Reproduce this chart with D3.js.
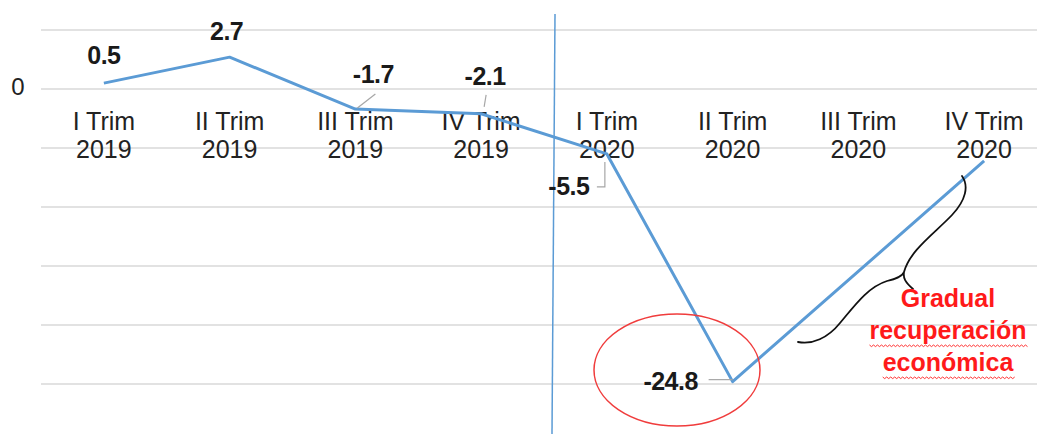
<!DOCTYPE html>
<html>
<head>
<meta charset="utf-8">
<script src="https://cdn.jsdelivr.net/npm/d3@7"></script>
<style>
  body { margin: 0; background: #fff; }
  svg { display: block; font-family: "Liberation Sans", Arial, sans-serif; }
</style>
</head>
<body>
<svg width="1037" height="434"></svg>
<script>
var quarters = ["I Trim", "II Trim", "III Trim", "IV Trim", "I Trim", "II Trim", "III Trim", "IV Trim"];
var years = ["2019", "2019", "2019", "2019", "2020", "2020", "2020", "2020"];
var growth = [0.5, 2.7, -1.7, -2.1, -5.5, -24.8, null, -6.1];
var showLabel = [true, true, true, true, true, true, false, false];
var gridTicks = [5, 0, -5, -10, -15, -20, -25];
var yTickLabels = [0];

var svg = d3.select("svg");
var keys = quarters.map(function(q, i) { return q + " " + years[i]; });

var x = d3.scaleBand().domain(keys).range([41, 1047]);
var y = d3.scaleLinear().domain([-25, 5]).range([384, 30]);
var cx = function(i) { return x(keys[i]) + x.bandwidth() / 2; };

// gridlines
svg.append("g").selectAll("line")
  .data(gridTicks)
  .enter().append("line")
    .attr("x1", 41).attr("x2", 1037)
    .attr("y1", function(d) { return y(d); })
    .attr("y2", function(d) { return y(d); })
    .attr("stroke", "#d9d9d9").attr("stroke-width", 1.5);

// y tick label
svg.append("g").selectAll("text")
  .data(yTickLabels)
  .enter().append("text")
    .attr("x", 18).attr("y", function(d) { return y(d) + 6; })
    .attr("text-anchor", "middle")
    .attr("font-size", 24).attr("fill", "#222")
    .text(function(d) { return d; });

// category labels
var cat = svg.append("g").selectAll("text")
  .data(keys)
  .enter().append("text")
    .attr("text-anchor", "middle")
    .attr("font-size", 25).attr("fill", "#222");
cat.append("tspan")
  .attr("x", function(d, i) { return cx(i); }).attr("y", 130)
  .text(function(d, i) { return quarters[i]; });
cat.append("tspan")
  .attr("x", function(d, i) { return cx(i); }).attr("y", 158)
  .text(function(d, i) { return years[i]; });

// vertical separator
svg.append("line")
  .attr("x1", 555).attr("y1", 14).attr("x2", 552).attr("y2", 434)
  .attr("stroke", "#5b9bd5").attr("stroke-width", 1.5);

// series line (empty cells are bridged)
var pts = growth.map(function(v, i) { return { i: i, v: v }; })
  .filter(function(d) { return d.v !== null; });
var line = d3.line()
  .x(function(d) { return cx(d.i); })
  .y(function(d) { return y(d.v); });
svg.append("path")
  .datum(pts)
  .attr("d", line)
  .attr("fill", "none")
  .attr("stroke", "#5b9bd5")
  .attr("stroke-width", 3)
  .attr("stroke-linejoin", "round");

// data labels with leader lines
var labelPos = [
  { dx: 0, dy: -19, leader: null },
  { dx: -3, dy: -17, leader: null },
  { dx: 18, dy: -26, leader: [[20, -15], [2, -1]] },
  { dx: 4, dy: -29, leader: [[5, -19], [3, -7]] },
  { dx: -38, dy: 41, leader: [[-10, 33], [-2, 33], [-2, 8]] },
  { dx: -62, dy: 8, leader: [[-24, -2], [0, -2]] }
];
pts.forEach(function(d) {
  if (!showLabel[d.i]) return;
  var p = labelPos[d.i], px = cx(d.i), py = y(d.v);
  if (p.leader) {
    svg.append("path")
      .attr("d", d3.line()(p.leader.map(function(o) { return [px + o[0], py + o[1]]; })))
      .attr("fill", "none").attr("stroke", "#a6a6a6").attr("stroke-width", 1.2);
  }
  svg.append("text")
    .attr("x", px + p.dx).attr("y", py + p.dy)
    .attr("text-anchor", "middle")
    .attr("font-size", 25).attr("font-weight", "bold").attr("fill", "#1a1a1a")
    .attr("letter-spacing", -0.5)
    .text(d.v);
});

// red ellipse around the minimum
svg.append("ellipse")
  .attr("cx", 677).attr("cy", 370).attr("rx", 83).attr("ry", 56)
  .attr("fill", "none").attr("stroke", "#f03c3c").attr("stroke-width", 1.5);

// curly brace
svg.append("path")
  .attr("d", "M962,176 C969,186 966,200 952,215 C935,233 910,250 904,272 C903,278 905,282 913,289" +
             " M904,272 C902,277 895,279 887,281 C868,287 855,305 840,323 C828,338 812,345 798,342")
  .attr("fill", "none").attr("stroke", "#111").attr("stroke-width", 1.8)
  .attr("stroke-linecap", "round");

// annotation text
var note = ["Gradual", "recuperación", "económica"];
var noteY = [307, 339, 371];
var noteText = svg.append("g").selectAll("text")
  .data(note)
  .enter().append("text")
    .attr("x", 948).attr("y", function(d, i) { return noteY[i]; })
    .attr("text-anchor", "middle")
    .attr("font-size", 25).attr("font-weight", "bold").attr("fill", "#ff1a1a")
    .text(function(d) { return d; });

// spell-check squiggles under the last two lines
noteText.each(function(d, i) {
  if (i === 0) return;
  var b = this.getBBox();
  var yy = noteY[i] + 6, pth = "M" + b.x + "," + yy;
  for (var xx = b.x, k = 0; xx < b.x + b.width; xx += 2, k++) {
    pth += " L" + (xx + 2) + "," + (yy + (k % 2 ? 0 : 1.6));
  }
  svg.append("path").attr("d", pth)
    .attr("fill", "none").attr("stroke", "#ff3030").attr("stroke-width", 1);
});
</script>
</body>
</html>
